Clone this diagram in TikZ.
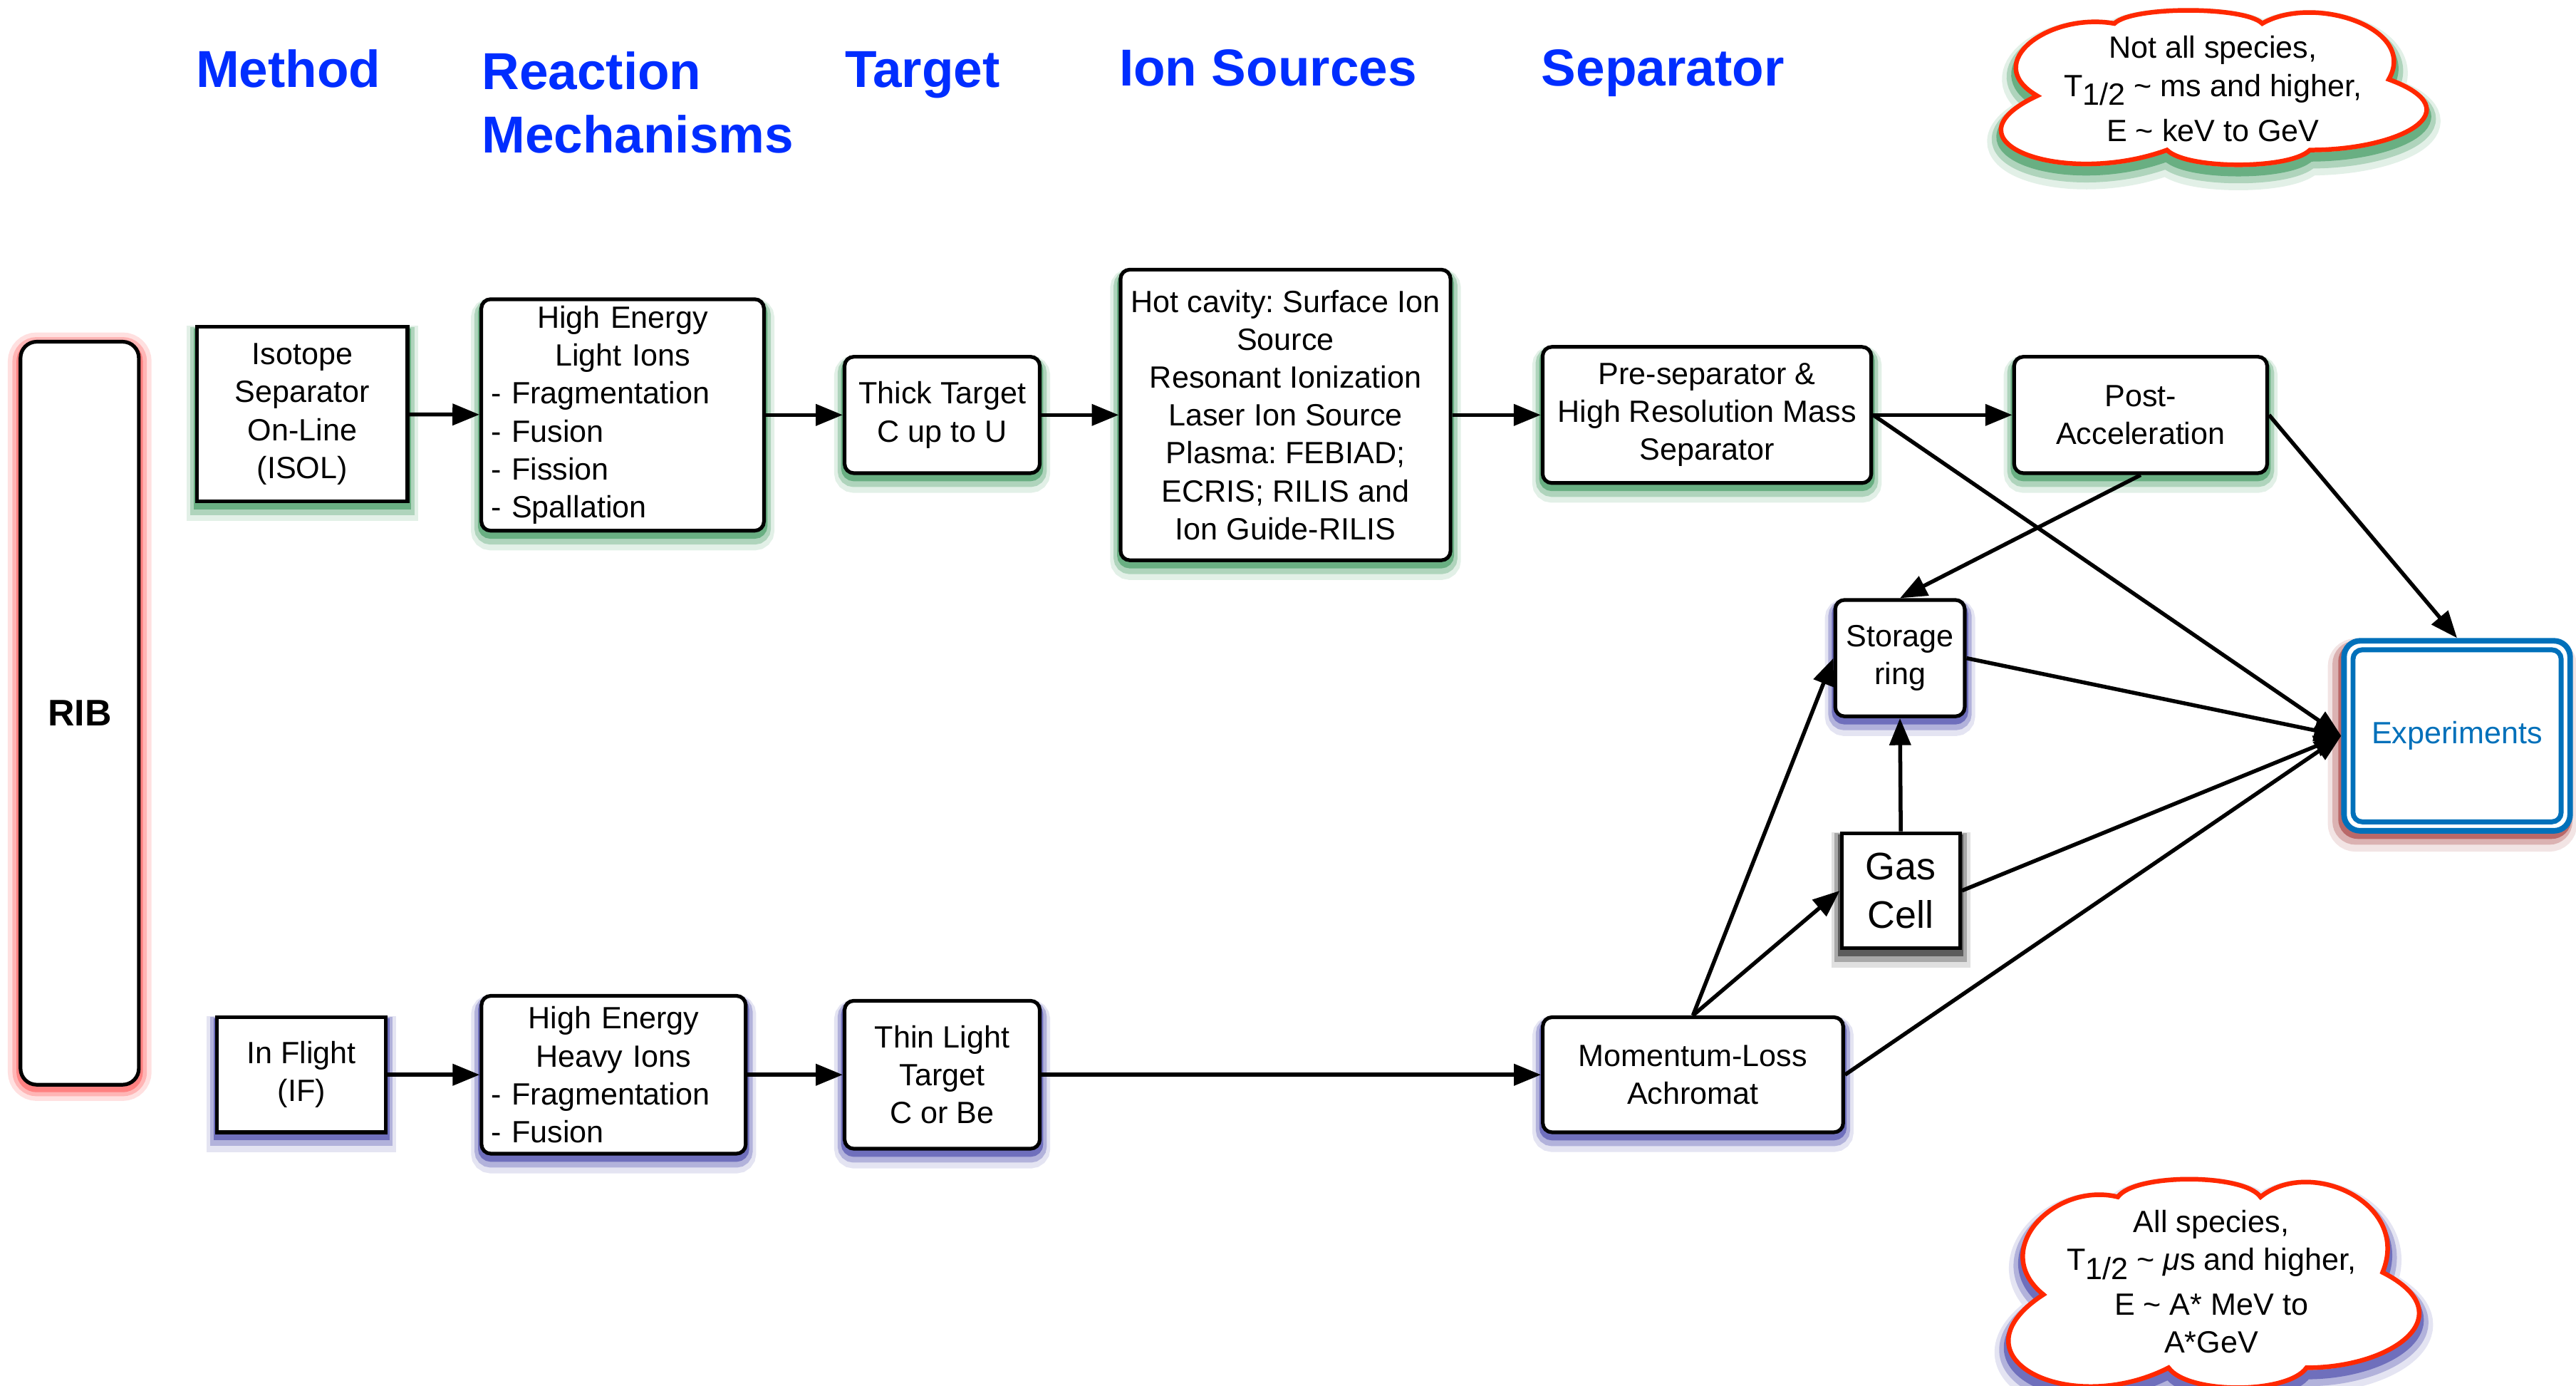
\documentclass[tikz,border=0pt]{standalone}
\usepackage{fontspec}
\setmainfont{Liberation Sans}
\usetikzlibrary{arrows.meta,positioning}
\definecolor{headblue}{RGB}{0,45,255}
\definecolor{expblue}{RGB}{0,112,186}
\definecolor{cloudred}{RGB}{255,40,0}
\definecolor{shgreen}{RGB}{20,130,60}
\definecolor{shblue}{RGB}{30,30,150}
\definecolor{shred}{RGB}{255,50,50}
\definecolor{shbrown}{RGB}{150,30,30}
\frenchspacing
\tikzstyle{box}=[draw, line width=1.6pt, fill=white, align=center, inner sep=2pt,
font=\fontsize{13.3pt}{16.4pt}\selectfont]
\tikzstyle{rbox}=[box, rounded corners=4pt]
\tikzstyle{listbox}=[rbox, align=left, inner xsep=0.15cm]
\tikzstyle{head}=[anchor=north west, inner sep=0pt, align=left, text=headblue,
font=\fontsize{22.5pt}{27.7pt}\selectfont\bfseries]
\tikzstyle{puff}=[draw=cloudred, line width=2pt, fill=white]
\tikzstyle{notetext}=[align=center, inner sep=0pt, font=\fontsize{13.3pt}{16.4pt}\selectfont]
\tikzset{>={Triangle[length=0.41cm,width=0.32cm]},
conn/.style={->, line width=1.7pt},
glow/.style={
  preaction={fill=none, draw=#1, draw opacity=0.12, line width=9pt, transform canvas={yshift=-4pt}},
  preaction={fill=none, draw=#1, draw opacity=0.25, line width=6pt, transform canvas={yshift=-3pt}},
  preaction={fill=none, draw=#1, draw opacity=0.45, line width=3pt, transform canvas={yshift=-2pt}}},
bigglow/.style={
  preaction={fill=none, draw=#1, draw opacity=0.12, line width=12pt, transform canvas={yshift=-5pt}},
  preaction={fill=none, draw=#1, draw opacity=0.25, line width=8pt, transform canvas={yshift=-4pt}},
  preaction={fill=none, draw=#1, draw opacity=0.45, line width=4pt, transform canvas={yshift=-3pt}}},
ribglow/.style={
  preaction={fill=none, draw=shred, draw opacity=0.15, line width=11pt, transform canvas={yshift=-1.5pt}},
  preaction={fill=none, draw=shred, draw opacity=0.25, line width=7pt, transform canvas={yshift=-1.5pt}},
  preaction={fill=none, draw=shred, draw opacity=0.4, line width=3.5pt, transform canvas={yshift=-1.5pt}}},
expglow/.style={
  preaction={fill=none, draw=shbrown, draw opacity=0.12, line width=10pt, transform canvas={shift={(-2pt,-4pt)}}},
  preaction={fill=none, draw=shbrown, draw opacity=0.25, line width=6pt, transform canvas={shift={(-2pt,-3pt)}}},
  preaction={fill=none, draw=shbrown, draw opacity=0.5, line width=3pt, transform canvas={shift={(-1pt,-2pt)}}}}}
\newcommand{\halflife}{T\raisebox{-0.55ex}{1/2}}
\newcommand{\midline}[1]{\makebox[\linewidth]{#1}}
% six-puff cloud outline around (0,0)
\newcommand{\puffcloud}{(-107.5,5) to[out=150, in=170, looseness=1.6] (-60.5,-39)
 to[out=45, in=135, looseness=0.43] (29.5,-39)
 to[out=30, in=60, looseness=1.1] (106.5,-5)
 to[out=-20, in=0, looseness=2.2] (58.5,38)
 to[out=225, in=315, looseness=0.5] (-28.5,38)
 to[out=200, in=205, looseness=2] (-107.5,5) -- cycle}

\begin{document}
\begin{tikzpicture}[x=0.025cm, y=-0.025cm]
\useasboundingbox (0,0) rectangle (1568,843);
% column headings
\node[head] (hmethod) at (119,30) {Method};
\node[head] (hreact) at (293,31) {Reaction\\Mechanisms};
\node[head] (htarget) at (514,31) {Target};
\node[head] (hion) at (681,30) {Ion Sources};
\node[head] (hsep) at (938,30) {Separator};

\node[rbox, rounded corners=7pt, ribglow, minimum width=1.8cm, minimum height=11.3cm,
font=\fontsize{16pt}{19pt}\selectfont\bfseries] (rib) at (48.5,434) {RIB};

% ISOL branch
\node[box, glow=shgreen, minimum width=3.2cm, minimum height=2.65cm] (isol) at (184,252)
{Isotope\\Separator\\On-Line\\(ISOL)};
\node[listbox, glow=shgreen, minimum width=4.3cm, minimum height=3.52cm,
text width=4cm] (lightions) at (379,252.5)
{\midline{High Energy}\\\midline{Light Ions}\\- Fragmentation\\- Fusion\\- Fission\\- Spallation};
\node[rbox, glow=shgreen, minimum width=2.97cm, minimum height=1.77cm] (thick) at (573.5,252.5)
{Thick Target\\C up to U};
\node[rbox, glow=shgreen, minimum width=5.02cm, minimum height=4.42cm] (ionsrc) at (782.5,252.5)
{Hot cavity: Surface Ion\\Source\\Resonant Ionization\\Laser Ion Source\\Plasma: FEBIAD;\\ECRIS; RILIS and\\Ion Guide-RILIS};
\node[rbox, glow=shgreen, minimum width=5cm, minimum height=2.07cm] (sep) at (1039,252.5)
{Pre-separator \&\\High Resolution Mass\\Separator};
\node[rbox, glow=shgreen, minimum width=3.85cm, minimum height=1.77cm] (post) at (1303,252.5)
{Post-\\Acceleration};

% in-flight branch
\node[box, glow=shblue, minimum width=2.57cm, minimum height=1.75cm] (inflight) at (183.5,654)
{In Flight\\(IF)};
\node[listbox, glow=shblue, minimum width=4.02cm, minimum height=2.4cm,
text width=3.72cm] (heavyions) at (373.5,654)
{\midline{High Energy}\\\midline{Heavy Ions}\\- Fragmentation\\- Fusion};
\node[rbox, glow=shblue, minimum width=2.97cm, minimum height=2.25cm] (thin) at (573.5,654)
{Thin Light\\Target\\C or Be};
\node[rbox, glow=shblue, minimum width=4.57cm, minimum height=1.75cm] (mom) at (1030.5,654)
{Momentum-Loss\\Achromat};

% stopping and storage
\node[rbox, glow=shblue, minimum width=1.97cm, minimum height=1.77cm] (storage) at (1156.5,400.5)
{Storage\\ring};
\node[box, glow=black, minimum width=1.8cm, minimum height=1.75cm,
font=\fontsize{16.6pt}{21pt}\selectfont] (gas) at (1157,542) {Gas\\Cell};
\node[draw=expblue, line width=0.085cm, rounded corners=7pt, fill=white, expglow,
text=expblue, minimum width=3.44cm, minimum height=2.89cm,
font=\fontsize{13.3pt}{16.4pt}\selectfont] (exp) at (1495.6,447.75) {Experiments};
\draw[expblue, line width=0.075cm, rounded corners=4pt]
([shift={(5.1pt,-5.1pt)}]exp.north west) rectangle ([shift={(-5.1pt,5.1pt)}]exp.south east);

% notes
\begin{scope}[shift={(1347.5,53.3)}]
\draw[puff, bigglow=shgreen] \puffcloud;
\end{scope}
\node[notetext] (noteisoltext) at (1347,54)
{Not all species,\\\halflife{} \textasciitilde{} ms and higher,\\[3pt]E \textasciitilde{} keV to GeV};
\begin{scope}[shift={(1347.5,781)}, xscale=0.965, yscale=1.35]
\draw[puff, bigglow=shblue] \puffcloud;
\end{scope}
\node[notetext] (noteiftext) at (1346,780)
{All species,\\\halflife{} \textasciitilde{} \textit{μ}s and higher,\\[3pt]E \textasciitilde{} A* MeV to\\A*GeV};

% connections
\draw[conn] (isol) -- (lightions);
\draw[conn] (lightions) -- (thick);
\draw[conn] (thick) -- (ionsrc);
\draw[conn] (ionsrc) -- (sep);
\draw[conn] (sep) -- (post);
\draw[conn] (sep.east) -- (exp.west);
\draw[conn] (post.east) -- (exp.north);
\draw[conn] (post.south) -- (storage.north);
\draw[conn] (storage.east) -- (exp.west);
\draw[conn] (gas.north) -- (storage.south);
\draw[conn] (gas.east) -- (exp.west);
\draw[conn] (inflight) -- (heavyions);
\draw[conn] (heavyions) -- (thin);
\draw[conn] (thin) -- (mom);
\draw[conn] (mom.north) -- (storage.west);
\draw[conn] (mom.north) -- (gas.west);
\draw[conn] (mom.east) -- (exp.west);
\end{tikzpicture}
\end{document}
